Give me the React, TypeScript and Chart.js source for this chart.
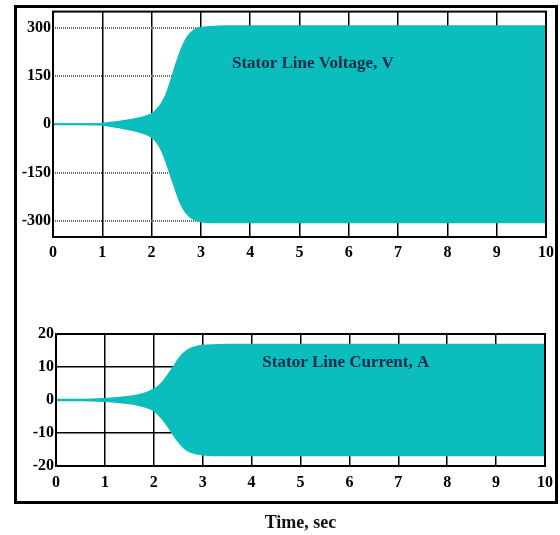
import React, { useEffect, useRef } from "react";
import { Chart, registerables } from "chart.js";

Chart.register(...registerables);

// ---- Data ----
const timeTicks = [0, 1, 2, 3, 4, 5, 6, 7, 8, 9, 10];
const voltTicks = [-300, -150, 0, 150, 300];
const currTicks = [-20, -10, 0, 10, 20];

const timeV = [0, 0.5, 1, 1.2, 1.4, 1.6, 1.8, 2.0, 2.1, 2.2, 2.3, 2.4, 2.5, 2.6, 2.7, 2.8, 2.9, 3.0, 3.2, 3.5, 4, 5, 6, 7, 8, 9, 10];
const voltUpper = [1, 1, 2, 6, 10, 15, 21, 32, 45, 65, 95, 140, 190, 232, 265, 285, 296, 300, 303, 305, 305, 305, 305, 305, 305, 305, 305];
const voltLower = [-1, -1, -2, -7, -12, -18, -26, -40, -55, -80, -120, -165, -210, -250, -275, -290, -298, -302, -305, -305, -305, -305, -305, -305, -305, -305, -305];

const timeI = [0, 0.5, 1, 1.2, 1.4, 1.6, 1.8, 2.0, 2.1, 2.2, 2.3, 2.4, 2.5, 2.6, 2.7, 2.8, 2.9, 3.0, 3.2, 3.5, 4, 5, 6, 7, 8, 9, 10];
const currUpper = [0.15, 0.15, 0.4, 0.6, 0.9, 1.3, 2, 3.3, 4.3, 5.8, 7.8, 10, 12.3, 14, 15.2, 15.9, 16.3, 16.5, 16.7, 16.8, 16.8, 16.8, 16.8, 16.8, 16.8, 16.8, 16.8];
const currLower = [-0.15, -0.15, -0.4, -0.6, -0.9, -1.3, -2, -3.2, -4.5, -6.2, -8.3, -10.5, -12.6, -14.3, -15.4, -16, -16.4, -16.6, -16.8, -16.8, -16.8, -16.8, -16.8, -16.8, -16.8, -16.8, -16.8];

const voltLabel = "Stator Line Voltage, V";
const currLabel = "Stator Line Current, A";
const xTitle = "Time, sec";

const FAMILY = '"Liberation Serif", "Times New Roman", serif';
const FILL = "#0cbdbd";
const TEXT = "#0a2a4a";

function pts(xs: number[], ys: number[]) {
  return xs.map((x, i) => ({ x, y: ys[i] }));
}

function framePlugin(label: string, lx: number, ly: number) {
  return {
    id: "frameAndLabel",
    afterDatasetsDraw(chart: any) {
      const { ctx, chartArea: a, scales } = chart;
      ctx.save();
      ctx.strokeStyle = "#000";
      ctx.lineWidth = 2;
      ctx.strokeRect(a.left, a.top, a.right - a.left, a.bottom - a.top);
      ctx.font = `bold 17px ${FAMILY}`;
      ctx.fillStyle = TEXT;
      ctx.textAlign = "left";
      ctx.textBaseline = "middle";
      ctx.fillText(label, scales.x.getPixelForValue(lx), scales.y.getPixelForValue(ly));
      ctx.restore();
    },
  };
}

function makeConfig(opts: {
  xs: number[];
  up: number[];
  lo: number[];
  yMin: number;
  yMax: number;
  yTicks: number[];
  yGridColor: string;
  yGridDash: number[];
  yGridWidth: number;
  yWidth: number;
  xHeight: number;
  padTop: number;
  xPad: number;
  title?: string;
  label: string;
  lx: number;
  ly: number;
}) {
  const tickFont = { family: FAMILY, size: 16, weight: "bold" as const };
  return {
    type: "line" as const,
    data: {
      datasets: [
        {
          data: pts(opts.xs, opts.up),
          borderColor: FILL,
          backgroundColor: FILL,
          borderWidth: 1.5,
          pointRadius: 0,
          cubicInterpolationMode: "monotone" as const,
          fill: "+1",
        },
        {
          data: pts(opts.xs, opts.lo),
          borderColor: FILL,
          backgroundColor: FILL,
          borderWidth: 1.5,
          pointRadius: 0,
          cubicInterpolationMode: "monotone" as const,
          fill: false,
        },
      ],
    },
    options: {
      responsive: false,
      animation: false as const,
      layout: { padding: { top: opts.padTop, right: 14, left: 0, bottom: 0 } },
      plugins: {
        legend: { display: false },
        tooltip: { enabled: false },
        title: { display: false },
      },
      scales: {
        x: {
          type: "linear" as const,
          min: 0,
          max: 10,
          afterBuildTicks: (s: any) => {
            s.ticks = timeTicks.map((v) => ({ value: v }));
          },
          afterFit: (s: any) => {
            s.height = opts.xHeight;
          },
          ticks: {
            font: tickFont,
            color: "#000",
            padding: opts.xPad,
            maxRotation: 0,
            autoSkip: false,
          },
          grid: { color: "#000", lineWidth: 1.5, drawTicks: false },
          border: { display: false },
          title: opts.title
            ? {
                display: true,
                text: opts.title,
                color: "#111",
                font: { family: FAMILY, size: 18, weight: "bold" as const },
                padding: { top: 0, bottom: 1 },
              }
            : { display: false },
        },
        y: {
          type: "linear" as const,
          min: opts.yMin,
          max: opts.yMax,
          afterBuildTicks: (s: any) => {
            s.ticks = opts.yTicks.map((v) => ({ value: v }));
          },
          afterFit: (s: any) => {
            s.width = opts.yWidth;
          },
          ticks: { font: tickFont, color: "#000", padding: 2, autoSkip: false },
          grid: { color: opts.yGridColor, lineWidth: opts.yGridWidth, drawTicks: false },
          border: { display: false, dash: opts.yGridDash },
        },
      },
    },
    plugins: [framePlugin(opts.label, opts.lx, opts.ly)],
  };
}

export default function App() {
  const topRef = useRef<HTMLCanvasElement | null>(null);
  const botRef = useRef<HTMLCanvasElement | null>(null);

  useEffect(() => {
    const c1 = new Chart(
      topRef.current as HTMLCanvasElement,
      makeConfig({
        xs: timeV,
        up: voltUpper,
        lo: voltLower,
        yMin: -350,
        yMax: 350,
        yTicks: voltTicks,
        yGridColor: "#6a6a6a",
        yGridDash: [1, 1],
        yGridWidth: 2,
        yWidth: 53,
        xHeight: 33,
        padTop: 9,
        xPad: 6,
        label: voltLabel,
        lx: 3.63,
        ly: 187,
      }) as any
    );
    const c2 = new Chart(
      botRef.current as HTMLCanvasElement,
      makeConfig({
        xs: timeI,
        up: currUpper,
        lo: currLower,
        yMin: -20,
        yMax: 20,
        yTicks: currTicks,
        yGridColor: "#000",
        yGridDash: [],
        yGridWidth: 1.6,
        yWidth: 56,
        xHeight: 69,
        padTop: 34,
        xPad: 7,
        title: xTitle,
        label: currLabel,
        lx: 4.22,
        ly: 11.4,
      }) as any
    );
    return () => {
      c1.destroy();
      c2.destroy();
    };
  }, []);

  return (
    <div style={{ position: "absolute", left: 0, top: 0, width: 560, height: 535, background: "#fff" }}>
      <div
        style={{
          position: "absolute",
          left: 14,
          top: 5,
          width: 544,
          height: 499,
          border: "3px solid #000",
          boxSizing: "border-box",
        }}
      />
      <canvas
        ref={topRef}
        width={560}
        height={270}
        style={{ position: "absolute", left: 0, top: 0, width: 560, height: 270 }}
      />
      <canvas
        ref={botRef}
        width={560}
        height={235}
        style={{ position: "absolute", left: 0, top: 300, width: 560, height: 235 }}
      />
    </div>
  );
}
